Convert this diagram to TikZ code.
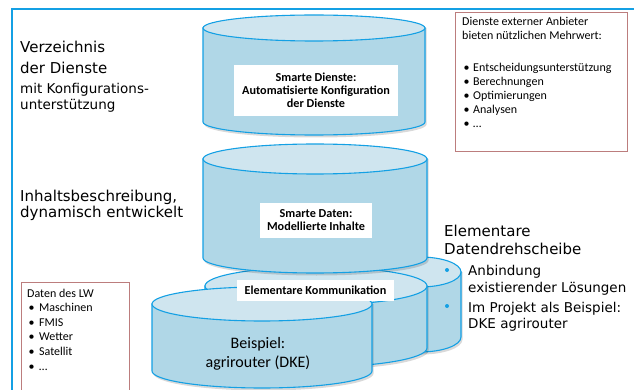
\documentclass[tikz,border=0pt]{standalone}
\usepackage{fontspec}
\setmainfont{Carlito}
\newfontfamily\verdana{DejaVu Sans}
\usetikzlibrary{positioning}

\definecolor{rand}{RGB}{20,160,228}
\definecolor{koerper}{RGB}{176,215,231}
\definecolor{deckel}{RGB}{207,229,239}
\definecolor{kasten}{RGB}{188,125,125}

% cylinder: centre x, top y, bottom y, x radius, y radius
\newcommand{\tonne}[5]{%
  \fill[black, opacity=0.15] (#1-#4+1.5,#2) -- (#1-#4+1.5,#3+2.5)
    arc[start angle=180, end angle=0, x radius=#4, y radius=#5] -- (#1+#4+1.5,#2) -- cycle;
  \filldraw[tonnenkoerper] (#1-#4,#2) -- (#1-#4,#3)
    arc[start angle=180, end angle=0, x radius=#4, y radius=#5] -- (#1+#4,#2) -- cycle;
  \filldraw[tonnendeckel] (#1,#2) ellipse[x radius=#4, y radius=#5];
}
% bullet in front of a list item
\newcommand{\punkt}[1]{\makebox[#1][l]{\hspace{1.5pt}\textbullet}}

\begin{document}
\begin{tikzpicture}[x=1pt, y=-1pt,
    tonnenkoerper/.style={draw=rand, line width=1.1pt, fill=koerper},
    tonnendeckel/.style={draw=rand, line width=1.1pt, fill=deckel},
    etikett/.style={fill=white, inner sep=0pt, align=center,
      font=\fontsize{12.2}{13}\selectfont\bfseries},
    gross/.style={inner sep=0pt, align=left, anchor=base west,
      font=\verdana\fontsize{15}{21}\selectfont},
    mittel/.style={inner sep=0pt, align=left, anchor=base west,
      font=\verdana\fontsize{13.5}{16}\selectfont},
    liste/.style={inner sep=0pt, align=left, anchor=base west,
      font=\fontsize{12}{14}\selectfont},
    kastenrahmen/.style={draw=kasten, line width=1pt}]
  \clip (0,0) rectangle (634,390);

  % outer frame
  \draw[rand, line width=2pt] (12,400) -- (12,9) -- (640,9);

  % bottom layer: three cylinders, back to front
  \tonne{420}{272}{337}{41}{15}
  \tonne{316}{286}{348}{111}{19}
  \tonne{262}{304}{371}{110}{17}

  % smart data and smart services
  \tonne{315}{159}{258}{112}{15}
  \tonne{314}{28}{122}{111}{13}

  % labels on the cylinders
  \node[etikett, minimum width=164, minimum height=51] (smartedienste) at (316,90.5)
    {Smarte Dienste:\\Automatisierte Konfiguration\\der Dienste};
  \node[etikett, minimum width=112, minimum height=35] (smartedaten) at (316,220.5)
    {Smarte Daten:\\Modellierte Inhalte};
  \node[etikett, minimum width=157, minimum height=21] (kommunikation) at (315.5,290.5)
    {Elementare Kommunikation};
  \node[inner sep=0pt, align=center, anchor=base, font=\fontsize{16}{19}\selectfont]
    (beispiel) at (258,367) {Beispiel:\\agrirouter (DKE)};

  % left side (anchors sit on the last line)
  \node[gross] (verzeichnis) at (20,74) {Verzeichnis\\der Dienste};
  \node[mittel] (konfig) at (20,110) {mit Konfigurations-\\unterstützung};
  \node[gross, font=\verdana\fontsize{15}{17}\selectfont] (inhalt) at (20,218)
    {Inhaltsbeschreibung,\\dynamisch entwickelt};

  % right side
  \node[gross, font=\verdana\fontsize{15}{17.5}\selectfont] (drehscheibe) at (444,254)
    {Elementare\\Datendrehscheibe};
  \foreach \y in {270,306}
    \fill[rand] (447,\y) circle (2);
  \node[mittel, font=\verdana\fontsize{13.5}{17}\selectfont] (anbindung) at (468,292)
    {Anbindung\\existierender Lösungen};
  \node[mittel] (projekt) at (468,328) {Im Projekt als Beispiel:\\DKE agrirouter};

  % external services
  \draw[kastenrahmen] (455,13) rectangle (627,152);
  \node[liste] (anbieter) at (462,40) {Dienste externer Anbieter\\bieten nützlichen Mehrwert:};
  \node[liste] (mehrwert) at (462,128) {\punkt{11pt}Entscheidungsunterstützung\\
    \punkt{11pt}Berechnungen\\\punkt{11pt}Optimierungen\\\punkt{11pt}Analysen\\\punkt{11pt}…};

  % farm data
  \draw[kastenrahmen] (21,282) rectangle (129,400);
  \node[liste, font=\fontsize{12}{14.6}\selectfont] (lw) at (27,370) {Daten des LW\\
    \punkt{12pt}Maschinen\\\punkt{12pt}FMIS\\\punkt{12pt}Wetter\\\punkt{12pt}Satellit\\\punkt{12pt}…};
\end{tikzpicture}
\end{document}
